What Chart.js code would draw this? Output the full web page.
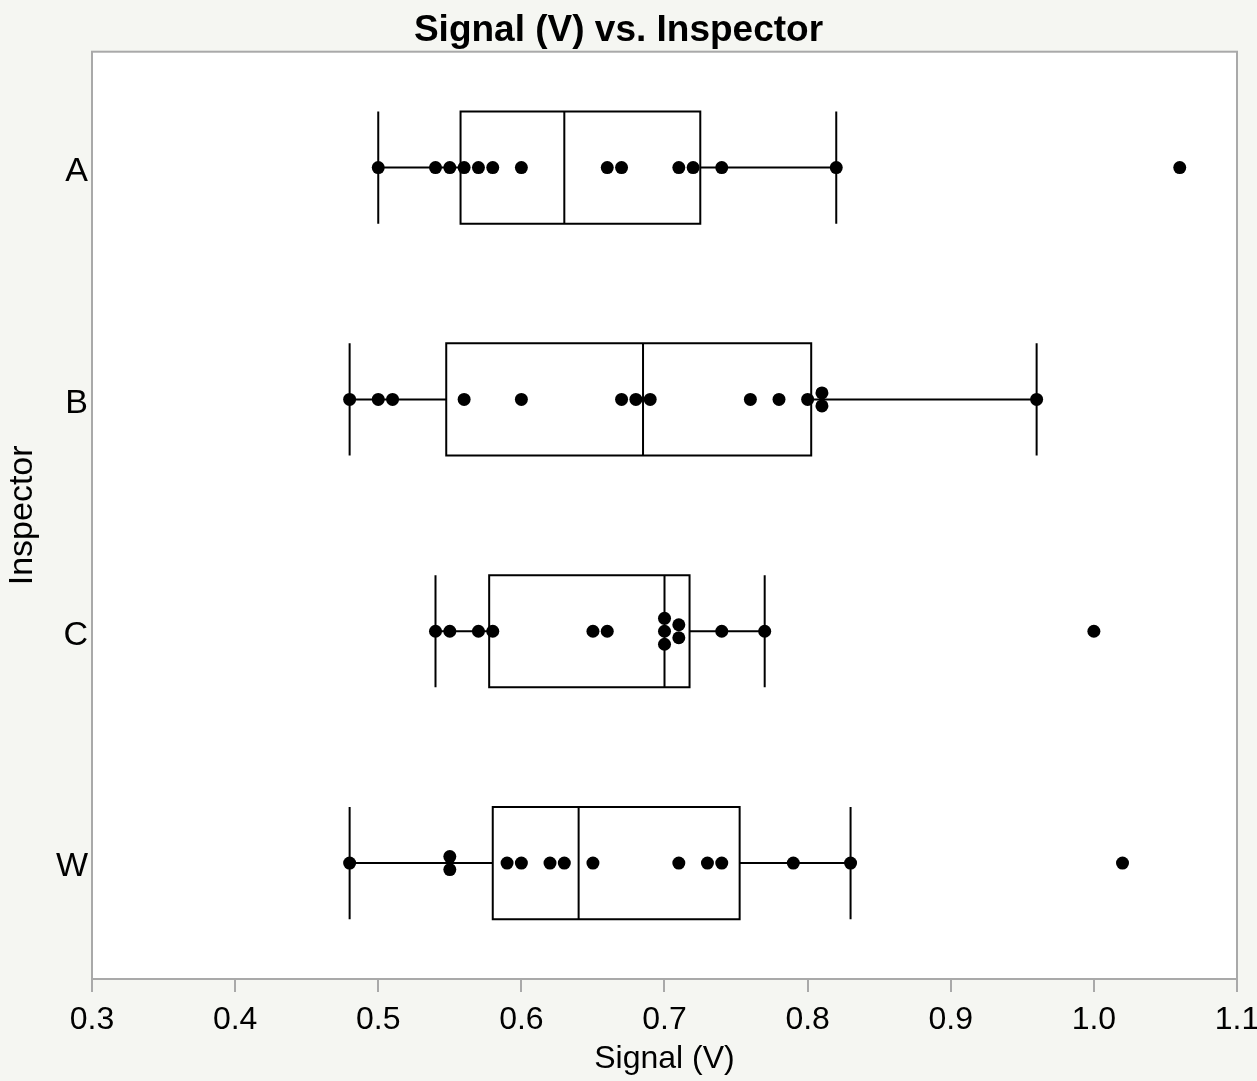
<!DOCTYPE html>
<html>
<head>
<meta charset="utf-8">
<script src="https://cdn.jsdelivr.net/npm/chart.js@4.4.0/dist/chart.umd.min.js"></script>
<style>
  body { margin: 0; background: #f5f6f2; }
  canvas { display: block; }
</style>
</head>
<body>
<canvas id="boxChart" width="1257" height="1081"></canvas>
<script>
// Data
const inspectors = ['A', 'B', 'C', 'W'];
const signalA = [0.50, 0.54, 0.55, 0.56, 0.57, 0.58, 0.60, 0.66, 0.67, 0.71, 0.72, 0.74, 0.82, 1.06];
const signalB = [0.48, 0.50, 0.51, 0.56, 0.60, 0.67, 0.68, 0.69, 0.76, 0.78, 0.80, 0.81, 0.81, 0.96];
const signalC = [0.54, 0.55, 0.57, 0.58, 0.65, 0.66, 0.70, 0.70, 0.70, 0.71, 0.71, 0.74, 0.77, 1.00];
const signalW = [0.48, 0.55, 0.55, 0.59, 0.60, 0.62, 0.63, 0.65, 0.71, 0.73, 0.74, 0.79, 0.83, 1.02];
const xTicks = [0.3, 0.4, 0.5, 0.6, 0.7, 0.8, 0.9, 1.0, 1.1];

const groups = [signalA, signalB, signalC, signalW];

// quantile, (n+1)p method
function quantile(sorted, p) {
    const pos = (sorted.length + 1) * p;
    const lo = Math.floor(pos);
    const frac = pos - lo;
    if (lo < 1) return sorted[0];
    if (lo >= sorted.length) return sorted[sorted.length - 1];
    return sorted[lo - 1] + frac * (sorted[lo] - sorted[lo - 1]);
}

const boxStats = groups.map(vals => {
    const s = vals.slice().sort((a, b) => a - b);
    const q1 = quantile(s, 0.25);
    const med = quantile(s, 0.5);
    const q3 = quantile(s, 0.75);
    const iqr = q3 - q1;
    const inside = s.filter(v => v >= q1 - 1.5 * iqr && v <= q3 + 1.5 * iqr);
    return { q1, med, q3, lo: inside[0], hi: inside[inside.length - 1] };
});

// stack equal values vertically, like the reference dot plot
const dotStep = 0.056;
const points = [];
groups.forEach((vals, gi) => {
    const counts = {};
    vals.forEach(v => { counts[v] = (counts[v] || 0) + 1; });
    const seen = {};
    vals.forEach(v => {
        const n = counts[v];
        const i = seen[v] || 0;
        seen[v] = i + 1;
        points.push({ x: v, y: gi + (i - (n - 1) / 2) * dotStep });
    });
});

const boxHalf = 0.242;

const boxPlugin = {
    id: 'boxPlugin',
    beforeDraw(chart) {
        const { ctx, chartArea: a } = chart;
        ctx.save();
        ctx.fillStyle = '#f5f6f2';
        ctx.fillRect(0, 0, chart.width, chart.height);
        ctx.fillStyle = '#ffffff';
        ctx.fillRect(a.left, a.top, a.right - a.left, a.bottom - a.top);
        ctx.restore();
    },
    beforeDatasetsDraw(chart) {
        const { ctx, chartArea: a } = chart;
        const xs = chart.scales.x;
        const ys = chart.scales.y;
        ctx.save();
        ctx.strokeStyle = '#a9a9a9';
        ctx.lineWidth = 2;
        ctx.strokeRect(a.left, a.top, a.right - a.left, a.bottom - a.top);

        ctx.strokeStyle = '#000000';
        ctx.lineWidth = 2;
        boxStats.forEach((b, i) => {
            const yc = ys.getPixelForValue(i);
            const yt = ys.getPixelForValue(i - boxHalf);
            const yb = ys.getPixelForValue(i + boxHalf);
            const x1 = xs.getPixelForValue(b.q1);
            const x3 = xs.getPixelForValue(b.q3);
            const xm = xs.getPixelForValue(b.med);
            const xl = xs.getPixelForValue(b.lo);
            const xh = xs.getPixelForValue(b.hi);
            ctx.beginPath();
            ctx.rect(x1, yt, x3 - x1, yb - yt);
            ctx.moveTo(xm, yt); ctx.lineTo(xm, yb);
            ctx.moveTo(xl, yc); ctx.lineTo(x1, yc);
            ctx.moveTo(x3, yc); ctx.lineTo(xh, yc);
            ctx.moveTo(xl, yt); ctx.lineTo(xl, yb);
            ctx.moveTo(xh, yt); ctx.lineTo(xh, yb);
            ctx.stroke();
        });
        ctx.restore();
    }
};

const font = 'Liberation Sans, Arial, Helvetica, sans-serif';

new Chart(document.getElementById('boxChart'), {
    type: 'scatter',
    data: {
        datasets: [{
            label: 'Signal (V)',
            data: points,
            backgroundColor: '#000000',
            borderWidth: 0,
            pointRadius: 6.5,
            pointHoverRadius: 6.5
        }]
    },
    options: {
        responsive: false,
        animation: false,
        layout: { padding: { left: 0, right: 20, top: 0, bottom: 0 } },
        plugins: {
            legend: { display: false },
            tooltip: { enabled: false },
            title: {
                display: true,
                text: 'Signal (V) vs. Inspector',
                color: '#000000',
                font: { family: font, size: 37, weight: 'bold', lineHeight: 1.1 },
                padding: { top: 10, bottom: 1 }
            }
        },
        scales: {
            x: {
                type: 'linear',
                min: 0.3,
                max: 1.1,
                afterBuildTicks: scale => { scale.ticks = xTicks.map(v => ({ value: v })); },
                afterFit: scale => {
                    scale.height = 102;
                    scale.paddingLeft = 0;
                    scale.paddingRight = 0;
                },
                ticks: {
                    color: '#000000',
                    font: { family: font, size: 32 },
                    padding: 9,
                    maxRotation: 0,
                    callback: v => v.toFixed(1)
                },
                grid: {
                    drawOnChartArea: false,
                    drawTicks: true,
                    tickLength: 13,
                    color: '#a9a9a9',
                    lineWidth: 2
                },
                border: { color: '#a9a9a9', width: 2 },
                title: {
                    display: true,
                    text: 'Signal (V)',
                    color: '#000000',
                    font: { family: font, size: 32 },
                    padding: { top: 0, bottom: 3 }
                }
            },
            y: {
                type: 'linear',
                min: -0.5,
                max: 3.5,
                reverse: true,
                afterBuildTicks: scale => { scale.ticks = inspectors.map((c, i) => ({ value: i })); },
                afterFit: scale => {
                    scale.width = 92;
                    scale.paddingTop = 0;
                    scale.paddingBottom = 0;
                },
                ticks: {
                    color: '#000000',
                    font: { family: font, size: 34 },
                    padding: 4,
                    labelOffset: 4,
                    callback: v => inspectors[v]
                },
                grid: { display: false, drawTicks: false },
                border: { color: '#a9a9a9', width: 2 },
                title: {
                    display: true,
                    text: 'Inspector',
                    color: '#000000',
                    font: { family: font, size: 34 },
                    padding: { top: 2, bottom: 0 }
                }
            }
        }
    },
    plugins: [boxPlugin]
});
</script>
</body>
</html>
